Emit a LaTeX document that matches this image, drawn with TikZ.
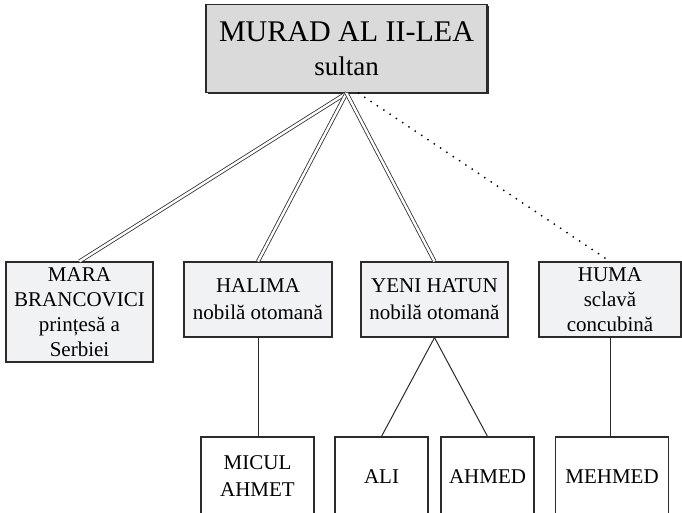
\documentclass[tikz,border=0pt]{standalone}
\usepackage{fontspec}
\setmainfont{Liberation Serif}
\usetikzlibrary{shadows}
\definecolor{muradgray}{HTML}{DADADA}
\definecolor{muradlight}{HTML}{F1F2F4}
\definecolor{muradline}{HTML}{2B2B2B}

\begin{document}
\begin{tikzpicture}[x=1pt, y=-1pt,
  box/.style={draw=muradline, line width=1.2pt, inner sep=0pt, align=center, font=\fontsize{21}{25}\selectfont},
  wife/.style={box, fill=muradlight, minimum height=75pt, drop shadow={shadow xshift=0.8pt, shadow yshift=-0.8pt, fill=muradline, opacity=1}},
  child/.style={box, fill=white, minimum height=79pt},
  wed/.style={draw=muradline, line width=0.8pt, double=white, double distance=2.4pt},
  link/.style={draw=muradline, line width=1pt},
  slave/.style={draw=black, line width=2pt, line cap=round, dash pattern=on 0pt off 7.6pt}
]
\useasboundingbox (0,0) rectangle (682,512);
\clip (0,0) rectangle (682,512);

\node[box, fill=muradgray, minimum width=281pt, minimum height=88pt, font=\fontsize{30}{34}\selectfont,
  drop shadow={shadow xshift=1.5pt, shadow yshift=-1.5pt, fill=muradline, opacity=1}] (murad) at (346.5,48.5)
  {MURAD AL II-LEA\\{\fontsize{27}{34}\selectfont sultan}};

\node[wife, minimum width=147pt, minimum height=100pt] (mara) at (79.5,312) {MARA\\BRANCOVICI\\prințesă a\\Serbiei};
\node[wife, minimum width=148pt, font=\fontsize{21}{27}\selectfont] (halima) at (258,299.5) {HALIMA\\nobilă otomană};
\node[wife, minimum width=147pt, font=\fontsize{21}{27}\selectfont] (yeni) at (434.5,299.5) {YENI HATUN\\nobilă otomană};
\node[wife, minimum width=142pt] (huma) at (610,299.5) {HUMA\\sclavă\\concubină};

\node[child, minimum width=113pt, font=\fontsize{21}{27}\selectfont] (micul) at (257.5,476.5) {MICUL\\AHMET};
\node[child, minimum width=93pt] (ali) at (381.5,476.5) {ALI};
\node[child, minimum width=93pt] (ahmed) at (487.5,476.5) {AHMED};
\node[child, minimum width=113pt] (mehmed) at (612,476.5) {MEHMED};

\draw[wed] (murad.south) -- (mara.north);
\draw[wed] (murad.south) -- (halima.north);
\draw[wed] (murad.south) -- (yeni.north);
\draw[slave] ([xshift=12pt]murad.south) -- (huma.north);

\draw[link] (halima.south) -- (halima.south |- micul.north);
\draw[link] (yeni.south) -- (ali.north);
\draw[link] (yeni.south) -- (ahmed.north);
\draw[link] (huma.south) -- (huma.south |- mehmed.north);
\end{tikzpicture}
\end{document}
